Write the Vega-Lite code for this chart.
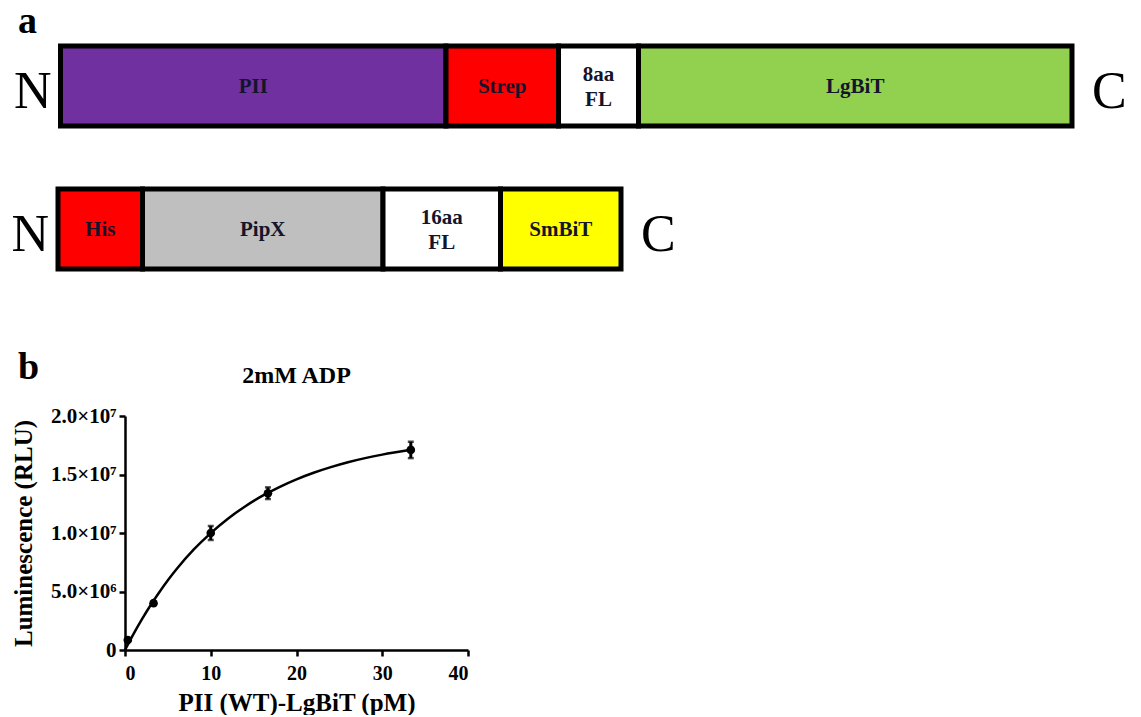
{
  "$schema": "https://vega.github.io/schema/vega-lite/v6.json",
  "background": "white",
  "padding": {"left": 11, "top": 3, "right": 0, "bottom": 0},
  "autosize": {"type": "pad"},
  "config": {
    "view": {"stroke": null},
    "title": {"font": "Liberation Serif", "fontWeight": "bold", "color": "black"},
    "axis": {
      "grid": false,
      "domainColor": "black", "domainWidth": 2.5,
      "tickColor": "black", "tickWidth": 2.5, "tickSize": 6,
      "labelFont": "Liberation Serif", "labelFontWeight": "bold", "labelFontSize": 21, "labelColor": "black",
      "titleFont": "Liberation Serif", "titleFontWeight": "bold", "titleFontSize": 25, "titleColor": "black"
    }
  },
  "datasets": {
    "segments": [
      {"construct": "PII-Strep-8aaFL-LgBiT", "part": "PII", "label": "PII", "start": 0, "end": 385.5},
      {"construct": "PII-Strep-8aaFL-LgBiT", "part": "Strep", "label": "Strep", "start": 385.5, "end": 498},
      {"construct": "PII-Strep-8aaFL-LgBiT", "part": "8aa FL", "label": "8aa\nFL", "start": 498, "end": 578},
      {"construct": "PII-Strep-8aaFL-LgBiT", "part": "LgBiT", "label": "LgBiT", "start": 578, "end": 1011.5},
      {"construct": "His-PipX-16aaFL-SmBiT", "part": "His", "label": "His", "start": -2.5, "end": 82},
      {"construct": "His-PipX-16aaFL-SmBiT", "part": "PipX", "label": "PipX", "start": 82, "end": 322.5},
      {"construct": "His-PipX-16aaFL-SmBiT", "part": "16aa FL", "label": "16aa\nFL", "start": 322.5, "end": 440},
      {"construct": "His-PipX-16aaFL-SmBiT", "part": "SmBiT", "label": "SmBiT", "start": 440, "end": 560.5}
    ],
    "termini": [
      {"construct": "PII-Strep-8aaFL-LgBiT", "terminus": "N", "pos": 0},
      {"construct": "PII-Strep-8aaFL-LgBiT", "terminus": "C", "pos": 1011.5},
      {"construct": "His-PipX-16aaFL-SmBiT", "terminus": "N", "pos": -2.5},
      {"construct": "His-PipX-16aaFL-SmBiT", "terminus": "C", "pos": 560.5}
    ],
    "fit": [
      {"conc": 0, "lum": 0},
      {"conc": 1, "lum": 1380000},
      {"conc": 2, "lum": 2660000},
      {"conc": 3, "lum": 3850000},
      {"conc": 4, "lum": 4940000},
      {"conc": 5, "lum": 5960000},
      {"conc": 6, "lum": 6900000},
      {"conc": 8, "lum": 8570000},
      {"conc": 10, "lum": 9990000},
      {"conc": 12, "lum": 11220000},
      {"conc": 14, "lum": 12270000},
      {"conc": 16, "lum": 13170000},
      {"conc": 18, "lum": 13930000},
      {"conc": 20, "lum": 14590000},
      {"conc": 22, "lum": 15150000},
      {"conc": 24, "lum": 15630000},
      {"conc": 26, "lum": 16050000},
      {"conc": 28, "lum": 16400000},
      {"conc": 30, "lum": 16700000},
      {"conc": 33.33, "lum": 17110000}
    ],
    "measured": [
      {"conc": 0.33, "lum": 850000, "sd": 150000},
      {"conc": 3.33, "lum": 4000000, "sd": 150000},
      {"conc": 10, "lum": 10000000, "sd": 600000},
      {"conc": 16.67, "lum": 13400000, "sd": 500000},
      {"conc": 33.33, "lum": 17100000, "sd": 700000}
    ]
  },
  "bounds": "flush",
  "spacing": 131,
  "vconcat": [
    {
      "width": 1121,
      "height": 255,
      "title": {"text": "a", "anchor": "start", "frame": "group", "fontSize": 38, "baseline": "alphabetic", "offset": -41},
      "encoding": {
        "y": {
          "field": "construct", "type": "nominal",
          "scale": {"domain": ["PII-Strep-8aaFL-LgBiT", "His-PipX-16aaFL-SmBiT"], "paddingInner": 0.4406, "paddingOuter": 0.1119},
          "axis": null
        }
      },
      "layer": [
        {
          "data": {"name": "segments"},
          "mark": {"type": "rect", "stroke": "black", "strokeWidth": 5, "strokeJoin": "miter"},
          "encoding": {
            "x": {"field": "start", "type": "quantitative", "scale": {"domain": [-42.5, 1078.5], "nice": false, "zero": false}, "axis": null},
            "x2": {"field": "end"},
            "color": {
              "field": "part", "type": "nominal",
              "scale": {
                "domain": ["PII", "Strep", "8aa FL", "LgBiT", "His", "PipX", "16aa FL", "SmBiT"],
                "range": ["#7030A0", "#FF0000", "#FFFFFF", "#92D050", "#FF0000", "#BFBFBF", "#FFFFFF", "#FFFF00"]
              },
              "legend": null
            }
          }
        },
        {
          "data": {"name": "segments"},
          "transform": [
            {"filter": {"not": {"field": "part", "oneOf": ["8aa FL", "16aa FL"]}}},
            {"fold": ["start", "end"], "as": ["edge", "xpos"]}
          ],
          "mark": {"type": "text", "font": "Liberation Serif", "fontWeight": "bold", "fontSize": 21, "color": "#14142b", "baseline": "middle", "align": "center", "dy": 1},
          "encoding": {
            "x": {"field": "xpos", "type": "quantitative", "aggregate": "mean"},
            "text": {"field": "label"}
          }
        },
        {
          "data": {"name": "segments"},
          "transform": [
            {"filter": {"field": "part", "oneOf": ["8aa FL", "16aa FL"]}},
            {"fold": ["start", "end"], "as": ["edge", "xpos"]}
          ],
          "mark": {"type": "text", "font": "Liberation Serif", "fontWeight": "bold", "fontSize": 21, "lineBreak": "\n", "lineHeight": 25, "color": "#14142b", "baseline": "middle", "align": "center", "dy": -11},
          "encoding": {
            "x": {"field": "xpos", "type": "quantitative", "aggregate": "mean"},
            "text": {"field": "label"}
          }
        },
        {
          "data": {"name": "termini"},
          "transform": [{"filter": "datum.terminus == 'N'"}],
          "mark": {"type": "text", "font": "Liberation Serif", "fontSize": 52, "color": "black", "align": "right", "baseline": "alphabetic", "dx": -9, "dy": 22},
          "encoding": {
            "x": {"field": "pos", "type": "quantitative"},
            "text": {"field": "terminus"}
          }
        },
        {
          "data": {"name": "termini"},
          "transform": [{"filter": "datum.terminus == 'C'"}],
          "mark": {"type": "text", "font": "Liberation Serif", "fontSize": 52, "color": "black", "align": "left", "baseline": "alphabetic", "dx": 20, "dy": 22},
          "encoding": {
            "x": {"field": "pos", "type": "quantitative"},
            "text": {"field": "terminus"}
          }
        }
      ]
    },
    {
      "bounds": "flush",
      "spacing": 0,
      "hconcat": [
        {
          "width": 107,
          "height": 234,
          "title": {"text": "b", "anchor": "start", "frame": "group", "fontSize": 38, "baseline": "alphabetic", "offset": -1},
          "data": {"values": []},
          "mark": {"type": "text"},
          "encoding": {}
        },
        {
          "width": 343,
          "height": 234,
          "title": {"text": "2mM ADP", "anchor": "middle", "frame": "group", "fontSize": 24, "baseline": "alphabetic", "offset": -2},
          "layer": [
            {
              "data": {"name": "fit"},
              "mark": {"type": "line", "color": "black", "strokeWidth": 2.5, "interpolate": "monotone"},
              "encoding": {
                "x": {"field": "conc", "type": "quantitative", "title": "PII (WT)-LgBiT (pM)",
                  "scale": {"domain": [0, 40], "nice": false},
                  "axis": {"values": [0, 10, 20, 30, 40], "labelPadding": 7, "titlePadding": 7, "labelFontSize": 20}},
                "y": {"field": "lum", "type": "quantitative", "title": "Luminescence (RLU)",
                  "scale": {"domain": [0, 20000000], "nice": false},
                  "axis": {"values": [0, 5000000, 10000000, 15000000, 20000000], "labelPadding": 3, "titlePadding": 14,
                    "labelExpr": "datum.value == 0 ? '0' : datum.value == 5000000 ? '5.0×10⁶' : datum.value == 10000000 ? '1.0×10⁷' : datum.value == 15000000 ? '1.5×10⁷' : '2.0×10⁷'"}}
              }
            },
            {
              "data": {"name": "measured"},
              "mark": {"type": "errorbar", "color": "black", "thickness": 3, "ticks": {"size": 6, "thickness": 2.5, "color": "black"}},
              "encoding": {
                "x": {"field": "conc", "type": "quantitative", "title": "PII (WT)-LgBiT (pM)"},
                "y": {"field": "lum", "type": "quantitative", "title": "Luminescence (RLU)"},
                "yError": {"field": "sd"}
              }
            },
            {
              "data": {"name": "measured"},
              "mark": {"type": "point", "shape": "circle", "filled": true, "color": "black", "opacity": 1, "size": 75},
              "encoding": {
                "x": {"field": "conc", "type": "quantitative", "title": "PII (WT)-LgBiT (pM)"},
                "y": {"field": "lum", "type": "quantitative", "title": "Luminescence (RLU)"}
              }
            }
          ]
        }
      ]
    }
  ]
}
